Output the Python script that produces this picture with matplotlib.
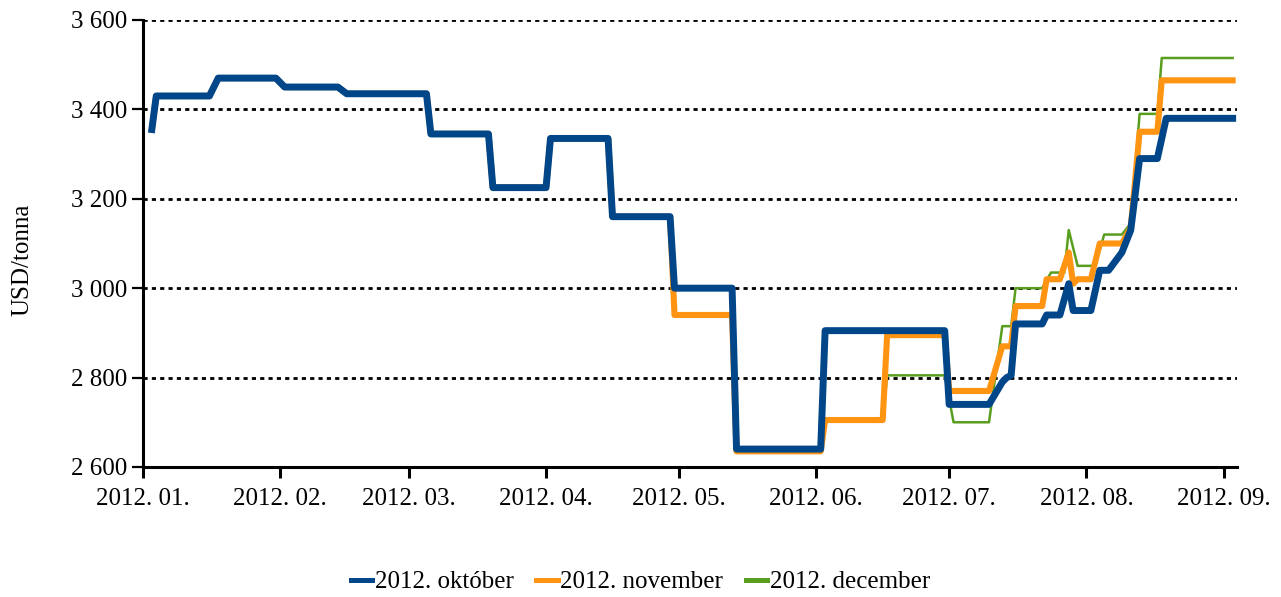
import pandas as pd
import matplotlib.pyplot as plt
import matplotlib.dates as mdates
from matplotlib.ticker import FuncFormatter

plt.rcParams['font.family'] = ['Liberation Serif', 'DejaVu Serif']

# futures prices by delivery month, USD/tonna
okt_dates = ['2012-01-03', '2012-01-04', '2012-01-16', '2012-01-18', '2012-01-31',
             '2012-02-02', '2012-02-14', '2012-02-16', '2012-03-05', '2012-03-06',
             '2012-03-19', '2012-03-20', '2012-04-01', '2012-04-02', '2012-04-15',
             '2012-04-16', '2012-04-29', '2012-04-30', '2012-05-13', '2012-05-14',
             '2012-06-02', '2012-06-03', '2012-06-30', '2012-07-01', '2012-07-10',
             '2012-07-13', '2012-07-14', '2012-07-15', '2012-07-16', '2012-07-22',
             '2012-07-23', '2012-07-26', '2012-07-28', '2012-07-29', '2012-08-02',
             '2012-08-04', '2012-08-06', '2012-08-09', '2012-08-11', '2012-08-13',
             '2012-08-17', '2012-08-19', '2012-09-03']
okt_values = [3355, 3430, 3430, 3470, 3470,
              3450, 3450, 3435, 3435, 3345,
              3345, 3225, 3225, 3335, 3335,
              3160, 3160, 3000, 3000, 2640,
              2640, 2905, 2905, 2740, 2740,
              2790, 2800, 2805, 2920, 2920,
              2940, 2940, 3010, 2950, 2950,
              3040, 3040, 3080, 3130, 3290,
              3290, 3380, 3380]

nov_dates = ['2012-01-03', '2012-01-04', '2012-01-16', '2012-01-18', '2012-01-31',
             '2012-02-02', '2012-02-14', '2012-02-16', '2012-03-05', '2012-03-06',
             '2012-03-19', '2012-03-20', '2012-04-01', '2012-04-02', '2012-04-15',
             '2012-04-16', '2012-04-29', '2012-04-30', '2012-05-13', '2012-05-14',
             '2012-06-02', '2012-06-03', '2012-06-16', '2012-06-17', '2012-06-30',
             '2012-07-01', '2012-07-10', '2012-07-13', '2012-07-15', '2012-07-16',
             '2012-07-22', '2012-07-23', '2012-07-26', '2012-07-28', '2012-07-29',
             '2012-07-30', '2012-08-02', '2012-08-04', '2012-08-09', '2012-08-11',
             '2012-08-13', '2012-08-17', '2012-08-18', '2012-09-03']
nov_values = [3355, 3430, 3430, 3470, 3470,
              3450, 3450, 3435, 3435, 3345,
              3345, 3225, 3225, 3335, 3335,
              3160, 3160, 2940, 2940, 2635,
              2635, 2705, 2705, 2895, 2895,
              2770, 2770, 2870, 2870, 2960,
              2960, 3020, 3020, 3080, 3010,
              3020, 3020, 3100, 3100, 3135,
              3350, 3350, 3465, 3465]

dec_dates = ['2012-01-03', '2012-01-04', '2012-01-16', '2012-01-18', '2012-01-31',
             '2012-02-02', '2012-02-14', '2012-02-16', '2012-03-05', '2012-03-06',
             '2012-03-19', '2012-03-20', '2012-04-01', '2012-04-02', '2012-04-15',
             '2012-04-16', '2012-04-29', '2012-04-30', '2012-05-13', '2012-05-14',
             '2012-06-02', '2012-06-03', '2012-06-16', '2012-06-17', '2012-06-30',
             '2012-07-02', '2012-07-10', '2012-07-13', '2012-07-15', '2012-07-16',
             '2012-07-22', '2012-07-24', '2012-07-27', '2012-07-28', '2012-07-30',
             '2012-08-03', '2012-08-05', '2012-08-09', '2012-08-11', '2012-08-13',
             '2012-08-17', '2012-08-18', '2012-09-03']
dec_values = [3355, 3430, 3430, 3470, 3470,
              3450, 3450, 3435, 3435, 3345,
              3345, 3225, 3225, 3335, 3335,
              3160, 3160, 2940, 2940, 2635,
              2635, 2705, 2705, 2805, 2805,
              2700, 2700, 2915, 2915, 3000,
              3000, 3035, 3035, 3130, 3050,
              3050, 3120, 3120, 3145, 3390,
              3390, 3515, 3515]

FS = 18

fig = plt.figure(figsize=(12.81, 5.97), dpi=100)
ax = fig.add_axes([0.1116, 0.2178, 0.8541, 0.7487])

ax.plot(pd.to_datetime(dec_dates), dec_values, color='#5a9e1f', lw=1.8,
        label='2012. december', zorder=3, solid_joinstyle='round')
ax.plot(pd.to_datetime(nov_dates), nov_values, color='#ff9412', lw=4.4,
        label='2012. november', zorder=4, solid_joinstyle='round')
ax.plot(pd.to_datetime(okt_dates), okt_values, color='#004689', lw=5.0,
        label='2012. október', zorder=5, solid_joinstyle='round')

ax.set_ylim(2600, 3600)
ax.set_xlim(pd.Timestamp('2012-01-01'), pd.Timestamp('2012-09-04'))
ax.set_yticks(range(2600, 3601, 200))
ax.yaxis.set_major_formatter(FuncFormatter(lambda v, p: '{:,}'.format(int(v)).replace(',', ' ')))
ax.xaxis.set_major_locator(mdates.MonthLocator())
ax.xaxis.set_major_formatter(mdates.DateFormatter('%Y. %m.'))

for y in range(2800, 3601, 200):
    ax.axhline(y, color='black', lw=2.0, ls=(0, (1.5, 1.5)), zorder=1)

for side in ['top', 'right']:
    ax.spines[side].set_visible(False)
for side in ['left', 'bottom']:
    ax.spines[side].set_linewidth(2.2)
    ax.spines[side].set_zorder(6)
ax.tick_params(axis='y', length=8, width=1.6, pad=3, labelsize=FS)
ax.tick_params(axis='x', length=8, width=2.2, pad=7, labelsize=FS)

fig.text(22 / 1281, 1 - 260 / 597, 'USD/tonna', rotation=90, fontsize=FS,
         ha='center', va='center')

handles, labels = ax.get_legend_handles_labels()
fig.legend(handles[::-1], labels[::-1], loc='center', bbox_to_anchor=(0.5, 1 - 582 / 597),
           ncol=3, frameon=False, fontsize=FS, handlelength=0.85, handletextpad=0.12,
           columnspacing=0.9, borderaxespad=0)
for line in fig.legends[0].get_lines():
    line.set_linewidth(3.6)

fig.savefig('out.png', dpi=100)
